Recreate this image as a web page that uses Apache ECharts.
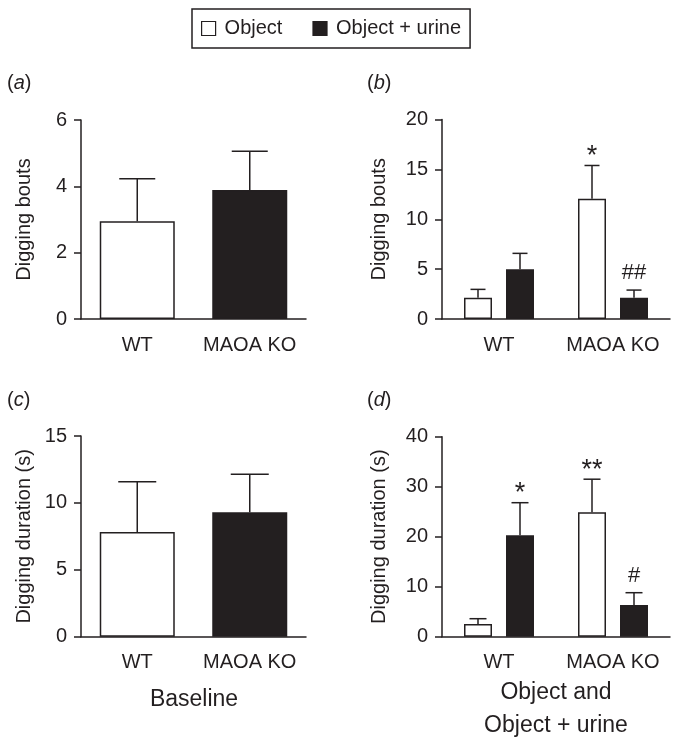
<!DOCTYPE html>
<html><head><meta charset="utf-8">
<script src="https://cdn.jsdelivr.net/npm/echarts@6/dist/echarts.min.js"></script>
<style>html,body{margin:0;padding:0;background:#fff}#c{width:679px;height:751px}</style>
</head><body><div id="c"></div>
<script>
// ---------------- data ----------------
const categories = ['WT', 'MAOA KO'];
const seriesNames = ['Object', 'Object + urine'];
// (a) baseline digging bouts
const baselineBouts = [2.95, 3.89];
const baselineBoutsSem = [1.28, 1.17];
// (b) digging bouts, object vs object + urine
const objectBouts = [2.13, 12.05];
const objectBoutsSem = [0.84, 3.34];
const urineBouts = [5.0, 2.13];
const urineBoutsSem = [1.58, 0.77];
const objectBoutsMarks = ['', '*'];
const urineBoutsMarks = ['', '##'];
// (c) baseline digging duration
const baselineDuration = [7.82, 9.3];
const baselineDurationSem = [3.76, 2.84];
// (d) digging duration, object vs object + urine
const objectDuration = [2.53, 24.9];
const objectDurationSem = [1.07, 6.6];
const urineDuration = [20.3, 6.33];
const urineDurationSem = [6.5, 2.47];
const objectDurationMarks = ['', '**'];
const urineDurationMarks = ['*', '#'];
// axes
const yMax = [6, 20, 15, 40];
const yStep = [2, 5, 5, 10];
const yNames = ['Digging bouts', 'Digging bouts', 'Digging duration (s)', 'Digging duration (s)'];
const panelLetters = ['a', 'b', 'c', 'd'];
const bottomTitles = ['Baseline', 'Object and\nObject + urine'];

// ---------------- style ----------------
const INK = '#231f20';
const FONT = '"Liberation Sans", Arial, Helvetica, sans-serif';
const grids = [
  {left: 81, top: 120, width: 225, height: 199},
  {left: 442, top: 119.5, width: 228, height: 199.5},
  {left: 81, top: 436, width: 225, height: 200.7},
  {left: 442, top: 436.7, width: 228, height: 200}
];
const nameGaps = [47, 53, 47, 53];
const WIDE_BAR = 75, NARROW_BAR = 28, NARROW_GAP = 14;

function errSeries(gi, values, sems, marks, offset, capW) {
  return {
    type: 'custom', xAxisIndex: gi, yAxisIndex: gi, z: 5, silent: true,
    data: values.map((v, i) => [i, v, v + sems[i]]),
    encode: {x: 0, y: 2},
    renderItem: function (params, api) {
      const cat = api.value(0), v = api.value(1), hi = api.value(2);
      const p0 = api.coord([cat, v]);
      const p1 = api.coord([cat, hi]);
      const x = p0[0] + offset;
      const st = {stroke: INK, lineWidth: 1.5};
      const children = [
        {type: 'line', shape: {x1: x, y1: p0[1], x2: x, y2: p1[1]}, style: st},
        {type: 'line', shape: {x1: x - capW / 2, y1: p1[1], x2: x + capW / 2, y2: p1[1]}, style: st}
      ];
      const mark = marks ? marks[params.dataIndex] : '';
      if (mark) {
        const star = mark.charAt(0) === '*';
        children.push({
          type: 'text', x: x, y: p1[1] - (star ? 9 : 17),
          style: {text: mark, fill: INK, font: (star ? 27 : 22) + 'px ' + FONT,
                  align: 'center', verticalAlign: 'middle'}
        });
      }
      return {type: 'group', children: children};
    }
  };
}

const xAxes = grids.map((g, i) => ({
  type: 'category', gridIndex: i, data: categories,
  axisLine: {lineStyle: {color: INK, width: 1.5}},
  axisTick: {alignWithLabel: true, length: 6, lineStyle: {color: INK, width: 1.5}},
  axisLabel: {color: INK, fontSize: 20, fontFamily: FONT, margin: 16, interval: 0, hideOverlap: false}
}));
const yAxes = grids.map((g, i) => ({
  type: 'value', gridIndex: i, min: 0, max: yMax[i], interval: yStep[i],
  name: yNames[i], nameLocation: 'middle', nameRotate: 90, nameGap: nameGaps[i],
  nameTextStyle: {color: INK, fontSize: 20, fontFamily: FONT},
  axisLine: {show: true, lineStyle: {color: INK, width: 1.5}},
  axisTick: {show: true, length: 7, lineStyle: {color: INK, width: 1.5}},
  axisLabel: {color: INK, fontSize: 20, fontFamily: FONT, margin: 14},
  splitLine: {show: false}
}));

const whiteStyle = {color: '#ffffff', borderColor: INK, borderWidth: 1.5};
const blackStyle = {color: INK, borderColor: INK, borderWidth: 1.5};

function baselineBar(gi, values) {
  return {
    type: 'bar', name: 'Baseline ' + gi, xAxisIndex: gi, yAxisIndex: gi, barWidth: WIDE_BAR,
    silent: true,
    data: values.map((v, i) => ({value: v, itemStyle: i === 0 ? whiteStyle : blackStyle}))
  };
}
function groupBar(gi, name, values, style) {
  return {
    type: 'bar', name: name, xAxisIndex: gi, yAxisIndex: gi, barWidth: NARROW_BAR,
    barGap: (NARROW_GAP / NARROW_BAR * 100) + '%', silent: true,
    itemStyle: style, data: values
  };
}
const off = (NARROW_BAR + NARROW_GAP) / 2;

const series = [
  baselineBar(0, baselineBouts),
  errSeries(0, baselineBouts, baselineBoutsSem, null, 0, 36),
  groupBar(1, seriesNames[0], objectBouts, whiteStyle),
  groupBar(1, seriesNames[1], urineBouts, blackStyle),
  errSeries(1, objectBouts, objectBoutsSem, objectBoutsMarks, -off, 15),
  errSeries(1, urineBouts, urineBoutsSem, urineBoutsMarks, off, 15),
  baselineBar(2, baselineDuration),
  errSeries(2, baselineDuration, baselineDurationSem, null, 0, 38),
  groupBar(3, seriesNames[0], objectDuration, whiteStyle),
  groupBar(3, seriesNames[1], urineDuration, blackStyle),
  errSeries(3, objectDuration, objectDurationSem, objectDurationMarks, -off, 17),
  errSeries(3, urineDuration, urineDurationSem, urineDurationMarks, off, 17)
];

const letterPos = [[7, 73], [367, 73], [7, 390], [367, 390]];
const graphics = panelLetters.map((l, i) => ({
  type: 'text', left: letterPos[i][0], top: letterPos[i][1],
  style: {
    text: '(' + '{it|' + l + '})',
    font: '20px ' + FONT, fill: INK,
    rich: {it: {fontStyle: 'italic', fontSize: 20, fontFamily: FONT, fill: INK}}
  }
}));
graphics.push({
  type: 'text', x: 194, y: 700, style: {text: bottomTitles[0], font: '23px ' + FONT, fill: INK,
    align: 'center', verticalAlign: 'middle'}
});
graphics.push({
  type: 'text', x: 556, y: 709, style: {text: bottomTitles[1], font: '23px ' + FONT, fill: INK,
    align: 'center', verticalAlign: 'middle', lineHeight: 33}
});

const chart = echarts.init(document.getElementById('c'), null, {renderer: 'canvas'});
chart.setOption({
  backgroundColor: '#ffffff',
  animation: false,
  grid: grids.map(g => Object.assign({outerBoundsMode: 'none', containLabel: false}, g)),
  xAxis: xAxes,
  yAxis: yAxes,
  legend: {
    data: seriesNames, left: 192, top: 9, orient: 'horizontal', icon: 'rect',
    itemWidth: 14, itemHeight: 14, itemGap: 30, padding: [9.5, 9, 9.5, 9],
    borderColor: INK, borderWidth: 1.5, selectedMode: false,
    itemStyle: {borderColor: INK, borderWidth: 1.2},
    textStyle: {fontSize: 20, fontFamily: FONT, color: INK, lineHeight: 20, padding: [0, 0, 0, 4]}
  },
  series: series,
  graphic: graphics
});
</script></body></html>
